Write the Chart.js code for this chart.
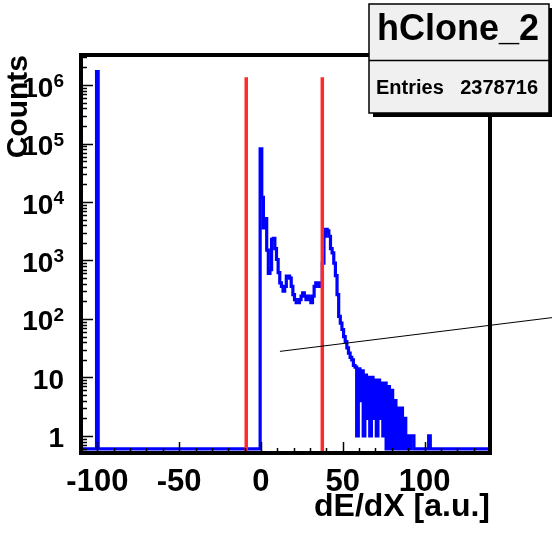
<!DOCTYPE html>
<html><head><meta charset="utf-8">
<script src="https://cdn.jsdelivr.net/npm/chart.js@4/dist/chart.umd.min.js"></script>
<style>html,body{margin:0;padding:0;background:#fff;}canvas{display:block;}</style>
</head><body>
<canvas id="c" width="552" height="533"></canvas>
<script>
// ---- text ----
const histName = 'hClone_2';
const entriesLabel = 'Entries';
const entriesValue = '2378716';
const xTitle = 'dE/dX [a.u.]';
const yTitle = 'Counts';

// ---- axes ----
const xRange = [-110, 140];
const yRange = [0.51, 3.27e6];
const xTickValues = [-100, -50, 0, 50, 100];
const yTickValues = [1, 10, 100, 1000, 10000, 100000, 1000000];
const yTickBase = ['1', '10', '10', '10', '10', '10', '10'];
const yTickExp = ['', '', '2', '3', '4', '5', '6'];

// ---- histogram (bin centres -110 ... 140, width 1) ----
const firstBinCenter = -110;
const binWidth = 1;
const binCounts = [
  0,0,0,0,0,0,0,0,0,0,                 // -110..-101
  1700000,0,0,0,0,0,0,0,0,0,           // -100..-91
  0,0,0,0,0,0,0,0,0,0,                 // -90..-81
  0,0,0,0,0,0,0,0,0,0,                 // -80..-71
  0,0,0,0,0,0,0,0,0,0,                 // -70..-61
  0,0,0,0,0,0,0,0,0,0,                 // -60..-51
  0,0,0,0,0,0,0,0,0,0,                 // -50..-41
  0,0,0,0,0,0,0,0,0,0,                 // -40..-31
  0,0,0,0,0,0,0,0,0,0,                 // -30..-21
  0,0,0,0,0,0,0,0,0,0,                 // -20..-11
  0,0,0,0,0,0,0,0,0,0,                 // -10..-1
  81000,12000,3600,5200,1500,600,700,2300,2400,1600,   // 0..9
  1040,620,415,360,300,360,540,540,500,360,            // 10..19
  260,215,190,190,215,245,280,245,215,245,             // 20..29
  215,190,245,360,415,415,360,415,900,2600,            // 30..39
  3400,3200,2600,1600,1350,900,550,260,111,85,         // 40..49
  66,50,41,32,26,22,20,16,15,1,                        // 50..59
  14,4,13,1,11,2,10,1,10,2,                            // 60..69
  9,1,9,2,8,1,8,0,7,0,                                 // 70..79
  6,0,4,0,3,0,3,0,2,0,                                 // 80..89
  1,0,1,1,0,0,0,0,0,0,                                 // 90..99
  0,0,0,1,0,0,0,0,0,0,                                 // 100..109
  0,0,0,0,0,0,0,0,0,0,                                 // 110..119
  0,0,0,0,0,0,0,0,0,0,                                 // 120..129
  0,0,0,0,0,0,0,0,0,0,                                 // 130..139
  0                                                    // 140
];
const emptyBinLevel = 0.6; // where empty bins are drawn on the log axis

// ---- cut lines (red) and the thin black line ----
const cutPositions = [-9, 37.5];
const cutTop = 1.36e6;
const guideLineX = [11.6, 178.2];
const guideLineY = [27.9, 105.7];

const FONT = "'Liberation Sans', Arial, Helvetica, sans-serif";

const histPoints = binCounts.map((c, i) => ({
  x: firstBinCenter + i * binWidth,
  y: c > 0 ? c : emptyBinLevel
}));

const rootPlugin = {
  id: 'rootDecor',
  afterDatasetsDraw(chart) {
    const { ctx, chartArea: a, scales: { x, y } } = chart;
    ctx.save();
    ctx.strokeStyle = '#000';
    ctx.lineWidth = 1.5;
    const seg = (x1, y1, x2, y2) => { ctx.beginPath(); ctx.moveTo(x1, y1); ctx.lineTo(x2, y2); ctx.stroke(); };
    // y ticks (inside)
    for (let e = -1; e <= 6; e++) {
      for (let m = 1; m <= 9; m++) {
        const v = m * Math.pow(10, e);
        if (v < yRange[0] || v > yRange[1]) continue;
        const py = Math.round(y.getPixelForValue(v)) + 0.5;
        seg(a.left, py, a.left + (m === 1 ? 12 : 6), py);
      }
    }
    // x ticks (inside)
    for (let v = -110; v <= 140; v += 10) {
      const px = Math.round(x.getPixelForValue(v)) + 0.5;
      seg(px, a.bottom, px, a.bottom - (v % 50 === 0 ? 11 : 5));
    }
    // frame
    ctx.lineWidth = 4;
    ctx.strokeRect(a.left, a.top, a.right - a.left, a.bottom - a.top);
    // y tick labels with superscripts
    ctx.fillStyle = '#000';
    ctx.textBaseline = 'alphabetic';
    const rightEdge = 64;
    yTickValues.forEach((v, i) => {
      const py = y.getPixelForValue(v);
      let expW = 0;
      if (yTickExp[i]) {
        ctx.font = 'bold 19px ' + FONT;
        expW = ctx.measureText(yTickExp[i]).width;
        ctx.textAlign = 'left';
        ctx.fillText(yTickExp[i], rightEdge - expW, py + 2);
      }
      ctx.font = 'bold 28px ' + FONT;
      ctx.textAlign = 'right';
      ctx.fillText(yTickBase[i], rightEdge - expW, py + 11.5);
    });
    ctx.restore();
  },
  afterDraw(chart) {
    const { ctx } = chart;
    ctx.save();
    // stats box
    const bx = 369, by = 4, bw = 180, bh = 109;
    ctx.fillStyle = '#000';
    ctx.fillRect(bx + 4, by + 4, bw, bh);
    ctx.fillStyle = '#f0f0f0';
    ctx.fillRect(bx, by, bw, bh);
    ctx.strokeStyle = '#000';
    ctx.lineWidth = 1.5;
    ctx.strokeRect(bx, by, bw, bh);
    ctx.beginPath(); ctx.moveTo(bx, 60.5); ctx.lineTo(bx + bw, 60.5); ctx.stroke();
    ctx.fillStyle = '#000';
    ctx.textBaseline = 'alphabetic';
    ctx.font = 'bold 36px ' + FONT;
    ctx.textAlign = 'center';
    ctx.fillText(histName, 458, 40);
    ctx.font = 'bold 20px ' + FONT;
    ctx.textAlign = 'left';
    ctx.fillText(entriesLabel, 376, 94);
    ctx.textAlign = 'right';
    ctx.fillText(entriesValue, 538, 94);
    ctx.restore();
  }
};

const datasets = [
  {
    label: 'guide', data: guideLineX.map((v, i) => ({ x: v, y: guideLineY[i] })),
    borderColor: '#000', borderWidth: 1, pointRadius: 0, clip: false, order: 0
  },
  ...cutPositions.map(c => ({
    label: 'cut', data: [{ x: c, y: yRange[0] }, { x: c, y: cutTop }],
    borderColor: '#ff2a2a', borderWidth: 3.5, pointRadius: 0, order: 1
  })),
  {
    label: histName, data: histPoints, stepped: 'middle',
    borderColor: '#0000ff', borderWidth: 3.2, pointRadius: 0, order: 3,
    borderJoinStyle: 'miter'
  }
];

new Chart(document.getElementById('c'), {
  type: 'line',
  data: { datasets },
  options: {
    responsive: false,
    animation: false,
    devicePixelRatio: 1,
    layout: { padding: { top: 55, right: 62, left: 0, bottom: 0 } },
    plugins: { legend: { display: false }, tooltip: { enabled: false } },
    scales: {
      x: {
        type: 'linear', min: xRange[0], max: xRange[1],
        grid: { display: false, drawTicks: false },
        border: { display: false },
        afterBuildTicks: s => { s.ticks = xTickValues.map(v => ({ value: v })); },
        afterFit: s => { s.height = 80; },
        ticks: {
          autoSkip: false, maxRotation: 0, padding: 11, color: '#000',
          font: { family: FONT, size: 31, weight: 'bold' }
        },
        title: {
          display: true, text: xTitle, align: 'end', color: '#000',
          font: { family: FONT, size: 32, weight: 'bold' },
          padding: { top: 0, bottom: 7 }
        }
      },
      y: {
        type: 'logarithmic', min: yRange[0], max: yRange[1],
        grid: { display: false, drawTicks: false },
        border: { display: false },
        ticks: { display: false },
        afterFit: s => { s.width = 81; },
        title: {
          display: true, text: yTitle, align: 'end', color: '#000',
          font: { family: FONT, size: 30, weight: 'bold' },
          padding: { top: 1, bottom: 0 }
        }
      }
    }
  },
  plugins: [rootPlugin]
});
</script>
</body></html>
